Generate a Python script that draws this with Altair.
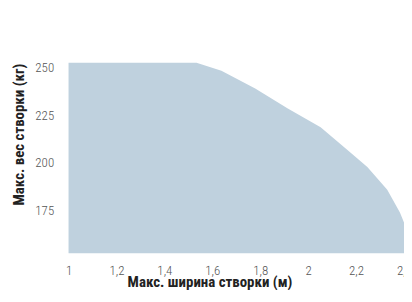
import altair as alt
import pandas as pd

width_m = [1.0, 1.534, 1.638, 1.779, 1.915, 2.052, 2.164, 2.247, 2.33, 2.383, 2.4]
weight_kg = [250, 250, 245.8, 236.5, 226, 216.1, 204.2, 195.3, 183.3, 171.4, 166.1]
y_min = 150

df = pd.DataFrame({"w": width_m, "kg": weight_kg, "base": [y_min] * len(width_m)})

FONT = "Roboto Condensed"

chart = alt.Chart(df).mark_area(color="#bfd1de", interpolate="linear", opacity=1).encode(
    x=alt.X("w:Q", scale=alt.Scale(domain=[1, 2.4], nice=False, zero=False),
            axis=alt.Axis(values=[1, 1.2, 1.4, 1.6, 1.8, 2, 2.2, 2.4],
                          labelExpr="replace(format(datum.value, '.1~f'), '.', ',')",
                          title="Макс. ширина створки (м)",
                          domain=False, ticks=False, tickSize=0, grid=False,
                          labelPadding=11, labelFontSize=13, labelFontWeight=300,
                          labelColor="#555555",
                          labelFont=FONT, titleFont=FONT, titleFontSize=15,
                          titleFontWeight="bold", titleColor="#222222",
                          titleX=142, titleY=34, titleAlign="center",
                          titleBaseline="alphabetic", labelFlush=False)),
    y=alt.Y("kg:Q", scale=alt.Scale(domain=[150, 250], nice=False, zero=False),
            axis=alt.Axis(values=[175, 200, 225, 250],
                          title="Макс. вес створки (кг)",
                          domain=False, ticks=False, tickSize=0, grid=False,
                          labelPadding=15, labelFontSize=13, labelFontWeight=300,
                          labelColor="#555555", labelOffset=5,
                          labelFont=FONT, titleFont=FONT, titleFontSize=15,
                          titleFontWeight="bold", titleColor="#222222",
                          titleX=-50, titleY=72, titleAngle=-90, titleAlign="center",
                          titleBaseline="middle")),
    y2="base:Q",
).properties(
    width=338, height=192,
    autosize=alt.AutoSizeParams(type="none"),
    padding={"left": 61, "top": 54, "right": 0, "bottom": 36},
).configure_view(stroke=None)

chart.save("out.html", embed_options={"renderer": "svg", "actions": False})
